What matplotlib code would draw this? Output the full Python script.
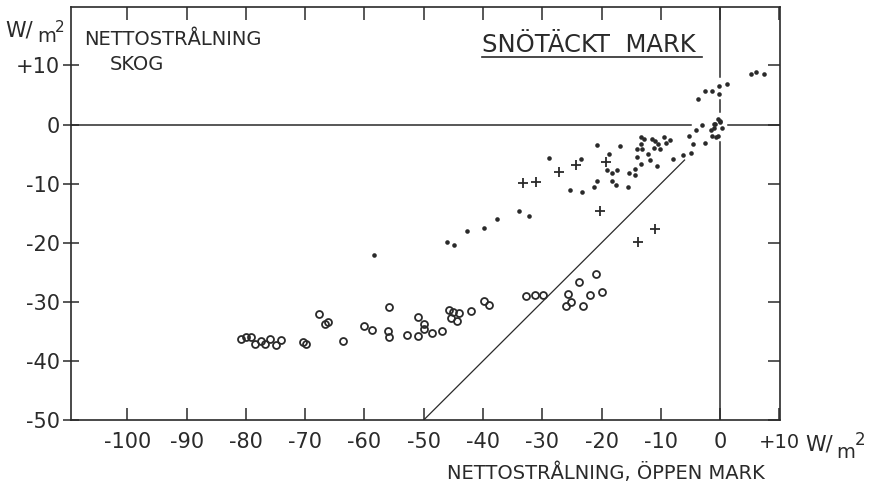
import numpy as np
import matplotlib.pyplot as plt
from matplotlib.lines import Line2D

# Nettostrålning, öppen mark (x) mot skog (y), W/m2, snötäckt mark

# fyllda punkter
dots_x = [5.2, 6.1, 7.4, -3.8, -2.6, -1.3, -0.2, 1.1, -0.2,
          -3.0, -4.1, -5.2, -4.6, -2.5, -1.5, -1.4, -1.0, -0.3, -0.1, 0.3, -0.7, -0.3, -0.8,
          -4.9, -6.2, -8.0, 0.0, -1.1,
          -20.8, -16.9, -18.7, -23.4, -28.8, -32.2, -25.3, -23.3, -21.2, -20.8,
          -19.0, -18.3, -17.5, -17.4, -18.3, -15.6, -15.4, -14.4, -14.4, -14.0,
          -14.0, -13.4, -13.4, -12.8, -13.2, -13.3, -12.1, -11.8, -11.5, -11.0,
          -11.2, -10.4, -10.1, -9.4, -9.2, -8.4, -10.6,
          -46.0, -44.9, -42.7, -39.9, -37.7, -34.0, -58.4]
dots_y = [8.6, 8.9, 8.5, 4.4, 5.6, 5.7, 6.6, 6.8, 5.1,
          0.0, -0.9, -2.0, -3.3, -3.1, -1.0, -1.9, 0.1, 1.0, 0.5, -0.5, -2.1, -2.0, 0.1,
          -4.8, -5.1, -5.9, 0.6, -0.5,
          -3.4, -3.7, -4.9, -5.8, -5.7, -15.4, -11.1, -11.4, -10.5, -9.5,
          -7.7, -9.5, -10.2, -7.7, -8.2, -10.6, -8.2, -7.5, -8.6, -5.5,
          -4.2, -3.3, -2.1, -2.4, -4.2, -6.7, -5.0, -6.0, -2.4, -2.8,
          -3.9, -3.3, -4.2, -2.1, -3.2, -2.6, -7.0,
          -19.8, -20.3, -18.0, -17.5, -15.9, -14.7, -22.0]

# ringar
ring_x = [-80.8, -80.0, -79.1, -78.5, -77.4, -76.7, -75.9, -75.0, -74.0,
          -70.4, -69.9, -67.7, -66.6, -66.2, -63.7, -60.1, -58.8, -55.8,
          -56.1, -55.8, -52.8, -50.9, -50.9, -49.9, -50.0, -48.6, -46.9,
          -45.8, -45.0, -44.1, -45.4, -44.4, -42.0, -39.9, -39.0,
          -32.7, -31.2, -29.9, -25.7, -26.0, -25.1, -23.8, -22.0, -23.1,
          -20.9, -19.9]
ring_y = [-36.3, -36.0, -35.9, -37.2, -36.7, -37.1, -36.3, -37.3, -36.5,
          -36.8, -37.2, -32.0, -33.7, -33.4, -36.7, -34.1, -34.8, -30.8,
          -34.9, -35.9, -35.6, -32.5, -35.8, -33.8, -34.6, -35.2, -34.9,
          -31.4, -31.7, -31.9, -32.8, -33.2, -31.6, -29.9, -30.6,
          -29.0, -28.8, -28.8, -28.7, -30.7, -30.0, -26.7, -28.9, -30.7,
          -25.3, -28.4]

# kryss
plus_x = [-33.2, -31.0, -27.2, -24.3, -19.2, -20.2, -11.0, -13.9]
plus_y = [-9.9, -9.7, -8.1, -6.8, -6.3, -14.6, -17.6, -19.8]

# linjen y = x
diag = [-50, -6]

xticks = [-100, -90, -80, -70, -60, -50, -40, -30, -20, -10, 0, 10]
xlabels = ['-100', '-90', '-80', '-70', '-60', '-50', '-40', '-30', '-20', '-10', '0', '+10']
yticks = [10, 0, -10, -20, -30, -40, -50]
ylabels = ['+10', '0', '-10', '-20', '-30', '-40', '-50']

# nollinjerna, med luckor vid punktmolnet
hline_segs = [(-109.5, -4.9), (1.4, 10.1)]
vline_segs = [(19.9, 8.0), (4.2, 2.2), (-3.0, -50)]

ink = '#2a2a2a'
plt.rcParams['font.family'] = ['DejaVu Sans']

W, H = 874, 491
fig = plt.figure(figsize=(W / 100, H / 100), dpi=100)
ax = fig.add_axes([71 / W, 1 - 420 / H, (780 - 71) / W, (420 - 7) / H])
ax.set_xlim(-109.5, 10.1)
ax.set_ylim(-50, 19.9)

for a, b in hline_segs:
    ax.plot([a, b], [0, 0], color=ink, lw=1.1)
for a, b in vline_segs:
    ax.plot([0, 0], [a, b], color=ink, lw=1.1)
ax.plot(diag, diag, color=ink, lw=0.9)

ax.plot(dots_x, dots_y, 'o', ms=3.3, color=ink, mec='none')
ax.plot(ring_x, ring_y, 'o', ms=5.0, mfc='none', mec=ink, mew=1.3)
ax.plot(plus_x, plus_y, '+', ms=6.5, color=ink, mew=1.3)

for s in ax.spines.values():
    s.set_color(ink)
    s.set_linewidth(1.2)

ax.set_xticks(xticks)
ax.set_xticklabels(xlabels)
ax.set_yticks(yticks)
ax.set_yticklabels(ylabels)
ax.tick_params(axis='x', which='both', direction='in', top=True, length=9,
               width=1.1, color=ink, labelsize=15, labelcolor=ink, pad=9)
ax.tick_params(axis='y', which='both', direction='inout', right=False, length=12,
               width=1.1, color=ink, labelsize=15, labelcolor=ink, pad=2)
# +10 under högerkanten lite smalare
ax.get_xticklabels()[-1].set_fontsize(14)

# korta inåtriktade streck på högerkanten
ax2 = ax.twinx()
ax2.set_ylim(ax.get_ylim())
ax2.set_yticks(yticks)
ax2.set_yticklabels([])
ax2.tick_params(axis='y', direction='in', length=9, width=1.1, color=ink)
for s in ax2.spines.values():
    s.set_visible(False)

fs = dict(color=ink)
fig.text(84 / W, 1 - 45 / H, 'NETTOSTRÅLNING', fontsize=14, va='baseline', **fs)
fig.text(110 / W, 1 - 70 / H, 'SKOG', fontsize=14, va='baseline', **fs)
fig.text(482 / W, 1 - 52 / H, 'SNÖTÄCKT  MARK', fontsize=17.5, va='baseline', **fs)
fig.add_artist(Line2D([482 / W, 702 / W], [1 - 57 / H, 1 - 57 / H], color=ink, lw=1.2))

# enhet, y-axel
fig.text(5 / W, 1 - 37 / H, 'W/', fontsize=15, va='baseline', **fs)
fig.text(37 / W, 1 - 42 / H, 'm', fontsize=14, va='baseline', **fs)
fig.text(55 / W, 1 - 32 / H, '2', fontsize=11, va='baseline', **fs)

# enhet, x-axel
fig.text(805 / W, 1 - 450 / H, 'W/', fontsize=15, va='baseline', **fs)
fig.text(836 / W, 1 - 458 / H, 'm', fontsize=14, va='baseline', **fs)
fig.text(855 / W, 1 - 445 / H, '2', fontsize=12, va='baseline', **fs)

fig.text(765 / W, 1 - 479 / H, 'NETTOSTRÅLNING, ÖPPEN MARK', fontsize=14,
         ha='right', va='baseline', **fs)

fig.savefig('out.png', dpi=100)
